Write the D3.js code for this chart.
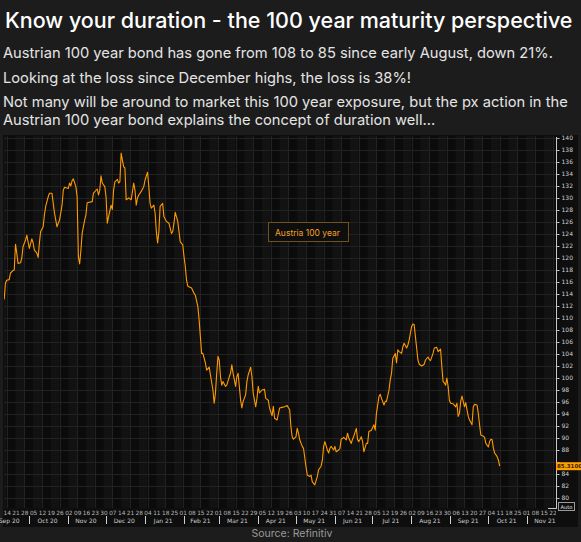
<!DOCTYPE html>
<html><head><meta charset="utf-8">
<script src="https://cdn.jsdelivr.net/npm/d3@7"></script>
<style>html,body{margin:0;padding:0;background:#1c1c1c;overflow:hidden}svg{display:block}</style>
</head><body>
<svg id="c" width="581" height="542"></svg>
<script>
const titleText = "Know your duration - the 100 year maturity perspective";
const bodyLines = [
  "Austrian 100 year bond has gone from 108 to 85 since early August, down 21%.",
  "Looking at the loss since December highs, the loss is 38%!",
  "Not many will be around to market this 100 year exposure, but the px action in the",
  "Austrian 100 year bond explains the concept of duration well..."
];
const sourceText = "Source: Refinitiv";
const seriesName = "Austria 100 year";
const lastValueLabel = "85.3100";
const autoLabel = "Auto";

const dates = [
 "2020-09-12","2020-09-13","2020-09-14","2020-09-16","2020-09-17","2020-09-19","2020-09-20","2020-09-21","2020-09-22","2020-09-23","2020-09-25","2020-09-26","2020-09-27","2020-09-29","2020-09-30",
 "2020-10-01","2020-10-02","2020-10-04","2020-10-05","2020-10-06","2020-10-08","2020-10-09","2020-10-10","2020-10-11","2020-10-13","2020-10-14","2020-10-15","2020-10-17","2020-10-18","2020-10-20","2020-10-21","2020-10-22","2020-10-24","2020-10-25","2020-10-26","2020-10-28","2020-10-29","2020-10-30",
 "2020-11-02","2020-11-03","2020-11-04","2020-11-05","2020-11-06","2020-11-08","2020-11-09","2020-11-10","2020-11-11","2020-11-12","2020-11-13","2020-11-15","2020-11-16","2020-11-17","2020-11-21","2020-11-22","2020-11-25","2020-11-26","2020-11-27","2020-11-28","2020-11-29",
 "2020-12-01","2020-12-02","2020-12-03","2020-12-04","2020-12-06","2020-12-07","2020-12-08","2020-12-09","2020-12-11","2020-12-12","2020-12-13","2020-12-14","2020-12-15","2020-12-16","2020-12-17","2020-12-18","2020-12-20","2020-12-22","2020-12-23","2020-12-24","2020-12-25","2020-12-26","2020-12-27","2020-12-28","2020-12-30",
 "2021-01-01","2021-01-02","2021-01-04","2021-01-05","2021-01-06","2021-01-07","2021-01-09","2021-01-10","2021-01-11","2021-01-12","2021-01-13","2021-01-14","2021-01-16","2021-01-17","2021-01-19","2021-01-21","2021-01-23","2021-01-24","2021-01-25","2021-01-26","2021-01-28","2021-01-29","2021-01-30",
 "2021-02-01","2021-02-02","2021-02-03","2021-02-04","2021-02-05","2021-02-08","2021-02-10","2021-02-11","2021-02-13","2021-02-14","2021-02-15","2021-02-16","2021-02-17","2021-02-19","2021-02-20","2021-02-22","2021-02-23","2021-02-25","2021-02-26","2021-02-27","2021-02-28",
 "2021-03-01","2021-03-02","2021-03-03","2021-03-04","2021-03-05","2021-03-07","2021-03-08","2021-03-10","2021-03-11","2021-03-12","2021-03-13","2021-03-15","2021-03-16","2021-03-17","2021-03-19","2021-03-20","2021-03-21","2021-03-23","2021-03-24","2021-03-25","2021-03-27","2021-03-28","2021-03-29","2021-03-31",
 "2021-04-01","2021-04-02","2021-04-03","2021-04-05","2021-04-07","2021-04-08","2021-04-10","2021-04-11","2021-04-13","2021-04-14","2021-04-15","2021-04-17","2021-04-19","2021-04-21","2021-04-23","2021-04-25","2021-04-27","2021-04-28","2021-04-29","2021-04-30",
 "2021-05-02","2021-05-03","2021-05-04","2021-05-05","2021-05-07","2021-05-08","2021-05-10","2021-05-11","2021-05-13","2021-05-14","2021-05-15","2021-05-17","2021-05-19","2021-05-20","2021-05-22","2021-05-23","2021-05-24","2021-05-25","2021-05-27","2021-05-28","2021-05-29","2021-05-30",
 "2021-06-01","2021-06-02","2021-06-03","2021-06-05","2021-06-06","2021-06-07","2021-06-09","2021-06-11","2021-06-12","2021-06-13","2021-06-15","2021-06-16","2021-06-17","2021-06-19","2021-06-20","2021-06-21","2021-06-23","2021-06-24","2021-06-25","2021-06-27","2021-06-28","2021-06-29",
 "2021-07-01","2021-07-03","2021-07-04","2021-07-05","2021-07-07","2021-07-08","2021-07-09","2021-07-11","2021-07-12","2021-07-13","2021-07-15","2021-07-16","2021-07-17","2021-07-18","2021-07-20","2021-07-21","2021-07-22","2021-07-23","2021-07-25","2021-07-26","2021-07-27","2021-07-29","2021-07-30","2021-07-31",
 "2021-08-02","2021-08-03","2021-08-04","2021-08-05","2021-08-07","2021-08-08","2021-08-10","2021-08-12","2021-08-13","2021-08-15","2021-08-16","2021-08-17","2021-08-19","2021-08-20","2021-08-22","2021-08-23","2021-08-25","2021-08-26","2021-08-27","2021-08-28","2021-08-29","2021-08-30","2021-08-31",
 "2021-09-01","2021-09-02","2021-09-04","2021-09-06","2021-09-07","2021-09-08","2021-09-09","2021-09-10","2021-09-11","2021-09-12","2021-09-13","2021-09-14","2021-09-15","2021-09-16","2021-09-17","2021-09-19","2021-09-20","2021-09-21","2021-09-23","2021-09-24","2021-09-25","2021-09-26","2021-09-28","2021-09-29","2021-09-30",
 "2021-10-02","2021-10-03","2021-10-04","2021-10-05","2021-10-06","2021-10-07","2021-10-09","2021-10-10","2021-10-11"
];
const values = [
 113.1,115.8,116.3,116.4,117.5,117.9,118.0,122.3,120.8,119.1,119.2,120.0,121.9,123.0,123.8,
 122.7,121.6,123.2,122.5,121.3,120.8,120.1,122.5,124.4,125.2,127.2,128.6,130.2,130.8,130.8,129.1,127.5,125.2,125.8,126.3,128.8,131.3,131.8,
 131.6,132.5,132.0,132.9,133.2,131.9,130.2,120.2,119.0,121.3,124.1,126.3,127.2,129.2,129.4,130.8,131.5,130.5,131.3,133.7,132.5,
 131.9,130.2,125.8,126.9,128.8,128.1,131.3,132.7,133.1,132.5,132.7,137.5,136.3,135.2,135.0,129.7,130.0,129.7,131.1,132.5,131.3,128.8,130.0,130.5,131.1,
 131.9,133.0,134.3,131.9,129.1,128.3,128.8,127.5,124.4,122.5,124.4,128.6,129.1,126.9,126.1,125.8,124.1,124.4,125.8,127.6,126.1,124.4,122.7,
 122.2,120.2,118.6,116.3,115.3,115.0,114.1,113.8,111.9,109.7,106.9,104.1,104.1,102.5,101.3,101.8,100.5,98.0,95.8,97.5,100.8,
 103.6,103.0,100.2,98.8,99.4,98.6,98.8,100.2,100.8,102.2,100.8,98.6,100.2,100.8,96.3,95.0,96.1,97.2,99.4,100.5,101.8,100.2,97.5,95.2,
 96.6,98.6,97.5,98.0,98.1,96.6,96.3,95.0,93.7,95.3,93.3,93.0,95.0,95.1,95.2,95.4,94.7,91.9,90.2,89.8,
 90.2,91.6,90.8,89.7,88.6,88.3,85.2,83.8,83.6,83.8,82.7,82.2,83.6,84.7,85.3,86.3,88.6,89.4,88.0,87.5,88.3,88.6,
 88.0,88.6,87.7,88.0,88.3,89.8,90.1,89.7,90.8,90.0,89.1,89.8,90.3,91.6,89.7,89.4,90.2,89.4,87.7,89.1,89.1,91.1,
 91.3,92.2,91.3,94.1,96.9,97.3,96.6,95.5,96.1,96.1,98.0,99.7,100.8,103.3,104.1,102.5,104.7,104.4,104.1,105.2,105.8,105.0,105.5,106.3,
 108.6,109.0,108.9,106.9,103.0,102.3,102.0,102.3,103.0,103.5,103.1,102.9,104.1,105.0,105.1,104.4,104.8,101.9,99.4,99.2,98.8,100.0,98.6,
 96.3,95.8,95.7,95.2,95.8,93.6,94.1,96.1,97.0,96.1,95.2,95.9,94.7,93.6,93.0,92.2,95.2,95.6,95.5,94.1,92.2,90.5,90.3,90.1,89.1,
 88.5,89.4,89.8,89.7,88.3,87.5,86.9,86.3,85.3
];
const yTickValues = [80,82,84,86,88,90,92,94,96,98,100,102,104,106,108,110,112,114,116,118,120,122,124,126,128,130,132,134,136,138,140];
const yDomain = [80, 140];
const xDomain = ["2020-09-14", "2021-11-22"];
const bandRange = ["2020-09-07", "2021-11-29"];
const monthRange = ["2020-09-01", "2021-12-01"];

if (dates.length !== values.length) throw new Error("length mismatch " + dates.length + " vs " + values.length);

const parse = d3.timeParse("%Y-%m-%d");
const data = dates.map((d, i) => ({date: parse(d), v: values[i]}));

const svg = d3.select("#c");
const W = 581, H = 542;
const plot = {x0: 4, x1: 556, y0: 136, y1: 508};

const x = d3.scaleTime().domain(xDomain.map(parse)).range([6.7, 552.5]);
const y = d3.scaleLinear().domain(yDomain).range([498, 138]);

// page background
svg.append("rect").attr("width", W).attr("height", H).attr("fill", "#1c1c1c");

// title + body
const title = svg.append("text").attr("x", 5).attr("y", 28)
  .attr("font-family", "Inter, 'Noto Sans', sans-serif").attr("font-weight", 500)
  .attr("font-size", 20).attr("fill", "#ffffff").text(titleText);
{
  const w = title.node().getComputedTextLength();
  title.attr("font-size", 20 * 568 / w);
}
const bodyY = [58, 82.5, 107, 125];
const bodyEls = bodyLines.map((t, i) => svg.append("text").attr("x", 3).attr("y", bodyY[i])
  .attr("font-family", "Inter, 'Noto Sans', sans-serif").attr("font-weight", 400)
  .attr("font-size", 15).attr("fill", "#e4e4e4").text(t));
{
  const f1 = 15 * 542 / bodyEls[0].node().getComputedTextLength();
  const f3 = 15 * 574 / bodyEls[2].node().getComputedTextLength();
  const fs = (f1 + f3) / 2;
  bodyEls.forEach(e => e.attr("font-size", fs));
}

// chart panel
svg.append("rect").attr("x", 3).attr("y", 135).attr("width", 575).attr("height", 392).attr("fill", "#0e0e0e");

const defs = svg.append("defs");
defs.append("clipPath").attr("id", "pc").append("rect")
  .attr("x", plot.x0).attr("y", plot.y0).attr("width", plot.x1 - plot.x0).attr("height", plot.y1 - plot.y0);
defs.append("clipPath").attr("id", "ac").append("rect")
  .attr("x", 0).attr("y", 508).attr("width", 556).attr("height", 20);

const g = svg.append("g").attr("clip-path", "url(#pc)");

// weekly alternating bands
const mondays = d3.timeMonday.range(parse(bandRange[0]), parse(bandRange[1]));
g.selectAll("rect.band").data(mondays).join("rect").attr("class", "band")
  .attr("x", d => x(d)).attr("y", plot.y0)
  .attr("width", d => x(d3.timeMonday.offset(d, 1)) - x(d))
  .attr("height", plot.y1 - plot.y0)
  .attr("fill", (d, i) => i % 2 ? "#0b0b0b" : "#121212");

// horizontal grid
g.selectAll("line.hg").data(yTickValues).join("line").attr("class", "hg")
  .attr("x1", plot.x0).attr("x2", plot.x1)
  .attr("y1", d => Math.round(y(d)) + 0.5).attr("y2", d => Math.round(y(d)) + 0.5)
  .attr("stroke", "#222222").attr("stroke-width", 1);

// vertical grid every two weeks
g.selectAll("line.vg").data(mondays.filter((d, i) => i % 2 === 1)).join("line").attr("class", "vg")
  .attr("x1", d => Math.round(x(d)) + 0.5).attr("x2", d => Math.round(x(d)) + 0.5)
  .attr("y1", plot.y0).attr("y2", plot.y1)
  .attr("stroke", "#222222").attr("stroke-width", 1);

// series line
const line = d3.line().x(d => x(d.date)).y(d => y(d.v));
g.append("path").datum(data).attr("d", line)
  .attr("fill", "none").attr("stroke", "#ff9a00").attr("stroke-width", 1.1)
  .attr("stroke-linejoin", "round");

// legend box
const lg = svg.append("g");
const lt = lg.append("text").attr("x", 275).attr("y", 236)
  .attr("font-family", "Inter, 'Noto Sans', sans-serif").attr("font-size", 8.5)
  .attr("fill", "#f2a22a").text(seriesName);
lg.insert("rect", "text").attr("x", 268.5).attr("y", 222.5)
  .attr("width", 80).attr("height", 19)
  .attr("fill", "#0e0e0e").attr("stroke", "#6e5220").attr("stroke-width", 1);

// right axis
const last = data[data.length - 1];
const yAxis = d3.axisRight(y).tickValues(yTickValues).tickSize(3).tickPadding(2).tickSizeOuter(0)
  .tickFormat(d3.format("d"));
const ya = svg.append("g").attr("transform", "translate(556.5,0)").call(yAxis);
ya.select(".domain").remove();
ya.selectAll(".tick line").attr("stroke", "#bdbdbd");
ya.selectAll(".tick text").attr("fill", "#d0d0d0").attr("font-size", 6)
  .attr("font-family", "'DejaVu Sans', sans-serif");
// the tick label hidden under the last-value tag
ya.selectAll(".tick").filter(d => Math.abs(y(d) - y(last.v)) < 7).select("text").remove();
svg.append("line").attr("x1", 556.5).attr("x2", 556.5).attr("y1", 137).attr("y2", 509)
  .attr("stroke", "#c8c8c8").attr("stroke-width", 1);
svg.append("line").attr("x1", 548).attr("x2", 557).attr("y1", 508.5).attr("y2", 508.5)
  .attr("stroke", "#c8c8c8").attr("stroke-width", 1);

// last value tag
svg.append("rect").attr("x", 556).attr("y", y(last.v) - 4).attr("width", 25).attr("height", 8)
  .attr("fill", "#ffa000");
svg.append("text").attr("x", 557).attr("y", y(last.v) + 2.2)
  .attr("font-family", "'DejaVu Sans', sans-serif").attr("font-size", 5.5).attr("font-weight", 700)
  .attr("fill", "#3a2000").text(lastValueLabel);

// auto box
svg.append("rect").attr("x", 558.5).attr("y", 502.5).attr("width", 16).attr("height", 8)
  .attr("fill", "none").attr("stroke", "#9a9a9a");
svg.append("text").attr("x", 566.5).attr("y", 508.8).attr("text-anchor", "middle")
  .attr("font-family", "'DejaVu Sans', sans-serif").attr("font-size", 5.2)
  .attr("fill", "#e0e0e0").text(autoLabel);

// x axis: weekly day labels
const xaOuter = svg.append("g").attr("clip-path", "url(#ac)");
const xa = xaOuter.append("g").attr("transform", "translate(0,509)");
const xAxis = d3.axisBottom(x).ticks(d3.timeMonday.every(1)).tickFormat(d3.timeFormat("%d"))
  .tickSize(0).tickPadding(2).tickSizeOuter(0);
xa.call(xAxis);
xa.select(".domain").remove();
xa.selectAll(".tick text").attr("fill", "#b8b8b8").attr("font-size", 5.8)
  .attr("font-family", "'DejaVu Sans', sans-serif");

// month labels + separators
const months = d3.timeMonth.range(parse(monthRange[0]), parse(monthRange[1]));
const mg = svg.append("g");
mg.selectAll("text").data(months).join("text")
  .attr("x", d => (x(d) + x(d3.timeMonth.offset(d, 1))) / 2)
  .attr("y", 523).attr("text-anchor", "middle")
  .attr("font-family", "'DejaVu Sans', sans-serif").attr("font-size", 6)
  .attr("fill", "#cfcfcf").text(d3.timeFormat("%b %y"));
mg.selectAll("line").data(months.filter(d => x(d) > 10 && x(d) < 550)).join("line")
  .attr("x1", d => Math.round(x(d)) + 1.5).attr("x2", d => Math.round(x(d)) + 1.5)
  .attr("y1", 516).attr("y2", 524).attr("stroke", "#cfcfcf").attr("stroke-width", 1);

// source
svg.append("text").attr("x", 292).attr("y", 537).attr("text-anchor", "middle")
  .attr("font-family", "Inter, 'Noto Sans', sans-serif").attr("font-size", 10.5)
  .attr("fill", "#9a9a9a").text(sourceText);
</script>
</body></html>
